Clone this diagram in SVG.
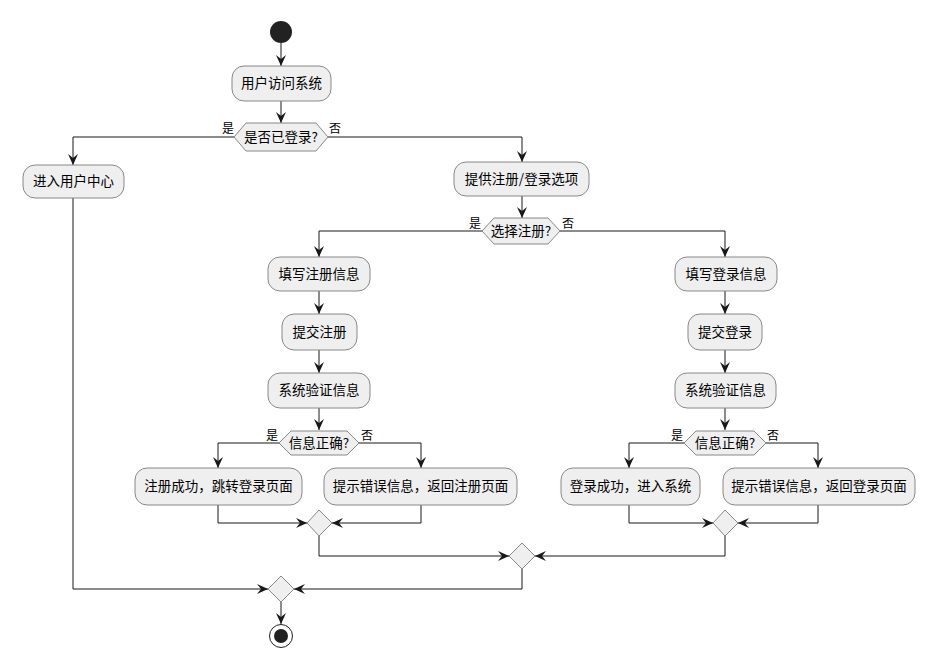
<svg xmlns="http://www.w3.org/2000/svg" width="939" height="672" viewBox="0 0 939 672">
<defs>
<marker id="ah" markerUnits="userSpaceOnUse" markerWidth="13" markerHeight="11" refX="11" refY="5" orient="auto">
<path d="M0,0 L11,5 L0,10 L4,5 Z" fill="#181818"/>
</marker>
</defs>
<style>
.box{fill:#efefef;stroke:#888;stroke-width:1}
.t{font-family:"Noto Sans CJK SC","Noto Sans",sans-serif;font-size:13.5px;fill:#000;text-anchor:middle}
.l{font-family:"Noto Sans CJK SC","Noto Sans",sans-serif;font-size:12px;fill:#000}
.c{fill:none;stroke:#181818;stroke-width:1}
.a{marker-end:url(#ah)}
</style>
<rect width="939" height="672" fill="#fff"/>

<g id="connectors">
<path class="c a" d="M281,43 V66"/>
<path class="c a" d="M281,101 V123"/>
<path class="c a" d="M234,137 H73 V165"/>
<path class="c a" d="M328,137 H522 V162"/>
<path class="c a" d="M73,198 V589 H268"/>
<path class="c a" d="M522,196 V218"/>
<path class="c a" d="M482,231 H319 V257"/>
<path class="c a" d="M560,231 H725 V257"/>
<path class="c a" d="M319,291 V314"/>
<path class="c a" d="M319,350 V373"/>
<path class="c a" d="M319,408 V430"/>
<path class="c a" d="M725,291 V314"/>
<path class="c a" d="M725,350 V373"/>
<path class="c a" d="M725,408 V430"/>
<path class="c a" d="M279,443 H218 V468"/>
<path class="c a" d="M359,443 H421 V468"/>
<path class="c a" d="M684,443 H629 V468"/>
<path class="c a" d="M766,443 H818 V468"/>
<path class="c a" d="M218,505 V523 H307"/>
<path class="c a" d="M421,505 V523 H332"/>
<path class="c a" d="M629,505 V523 H713"/>
<path class="c a" d="M818,505 V523 H738"/>
<path class="c a" d="M319,535 V556 H509"/>
<path class="c a" d="M725,535 V556 H535"/>
<path class="c a" d="M522,569 V589 H294"/>
<path class="c a" d="M281,602 V624"/>
</g>

<g id="start"><circle cx="281" cy="32" r="11" fill="#222"/></g>

<g id="n1"><rect class="box" x="232" y="66" width="99" height="35" rx="12"/><text class="t" x="281.5" y="88">用户访问系统</text></g>

<g id="d1"><polygon class="box" points="234,137 246,123 316,123 328,137 316,151 246,151"/><text class="t" x="281" y="142">是否已登录?</text>
<text class="l" x="222" y="133">是</text><text class="l" x="329" y="133">否</text></g>

<g id="n2"><rect class="box" x="23" y="165" width="101" height="33" rx="12"/><text class="t" x="73.5" y="186">进入用户中心</text></g>

<g id="n3"><rect class="box" x="454" y="162" width="135" height="34" rx="12"/><text class="t" x="521.5" y="184">提供注册/登录选项</text></g>

<g id="d2"><polygon class="box" points="482,231 494,218 548,218 560,231 548,244 494,244"/><text class="t" x="521" y="236">选择注册?</text>
<text class="l" x="469" y="228">是</text><text class="l" x="562" y="228">否</text></g>

<g id="n4"><rect class="box" x="268" y="257" width="102" height="34" rx="12"/><text class="t" x="319" y="279">填写注册信息</text></g>
<g id="n5"><rect class="box" x="282" y="314" width="75" height="36" rx="12"/><text class="t" x="319.5" y="337">提交注册</text></g>
<g id="n6"><rect class="box" x="268" y="373" width="102" height="35" rx="12"/><text class="t" x="319" y="395">系统验证信息</text></g>

<g id="n7"><rect class="box" x="675" y="257" width="102" height="34" rx="12"/><text class="t" x="726" y="279">填写登录信息</text></g>
<g id="n8"><rect class="box" x="688" y="314" width="74" height="36" rx="12"/><text class="t" x="725" y="337">提交登录</text></g>
<g id="n9"><rect class="box" x="675" y="373" width="101" height="35" rx="12"/><text class="t" x="725.5" y="395">系统验证信息</text></g>

<g id="d3"><polygon class="box" points="279,443 291,431 347,431 359,443 347,455 291,455"/><text class="t" x="319" y="448">信息正确?</text>
<text class="l" x="266" y="440">是</text><text class="l" x="361" y="440">否</text></g>

<g id="d4"><polygon class="box" points="684,443 696,431 754,431 766,443 754,455 696,455"/><text class="t" x="725" y="448">信息正确?</text>
<text class="l" x="671" y="440">是</text><text class="l" x="767" y="440">否</text></g>

<g id="n10"><rect class="box" x="135" y="468" width="167" height="37" rx="12"/><text class="t" x="218.5" y="491">注册成功，跳转登录页面</text></g>
<g id="n11"><rect class="box" x="324" y="468" width="193" height="37" rx="12"/><text class="t" x="420.5" y="491">提示错误信息，返回注册页面</text></g>
<g id="n12"><rect class="box" x="561" y="468" width="139" height="37" rx="12"/><text class="t" x="630.5" y="491">登录成功，进入系统</text></g>
<g id="n13"><rect class="box" x="723" y="468" width="192" height="37" rx="12"/><text class="t" x="819" y="491">提示错误信息，返回登录页面</text></g>

<g id="m1"><polygon class="box" points="319,510 332,523 319,536 307,523"/></g>
<g id="m2"><polygon class="box" points="725,510 738,523 725,536 713,523"/></g>
<g id="m3"><polygon class="box" points="522,543 535,556 522,569 509,556"/></g>
<g id="m4"><polygon class="box" points="281,576 294,589 281,602 268,589"/></g>

<g id="end"><circle cx="281" cy="636" r="11.5" fill="#fff" stroke="#222" stroke-width="1"/><circle cx="281" cy="636" r="7" fill="#222"/></g>
</svg>
